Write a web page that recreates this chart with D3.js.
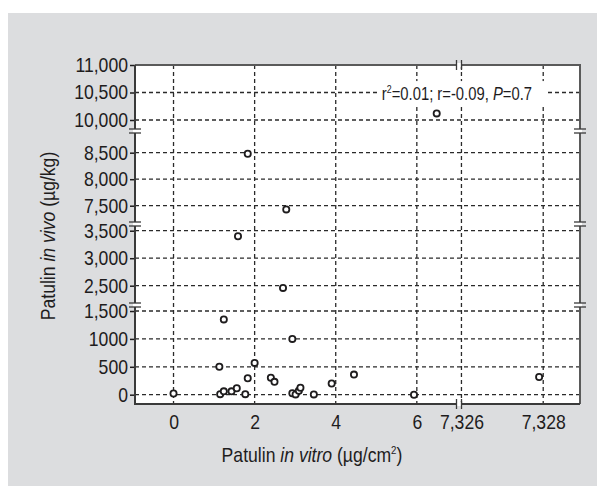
<!DOCTYPE html>
<html>
<head>
<meta charset="utf-8">
<script src="https://cdn.jsdelivr.net/npm/d3@7"></script>
<style>
  body { margin: 0; background: #ffffff; }
</style>
</head>
<body>
<script>
//Values
var vitroValues = [0, 1.13, 1.15, 1.24, 1.24, 1.43, 1.56, 1.59, 1.77, 1.83, 1.83, 2.0, 2.40, 2.49,
                   2.70, 2.78, 2.93, 2.93, 3.01, 3.09, 3.13, 3.46, 3.90, 4.45, 5.93, 6.49, 7.3279];
var vivoValues = [20, 500, 10, 1350, 60, 60, 115, 3400, 10, 295, 8480, 570, 305, 230,
                  2460, 7430, 1000, 25, 5, 70, 125, 5, 200, 360, 0, 10120, 317];

var xTickValues = [0, 2, 4, 6, 7.326, 7.328];
var xTickLabels = ["0", "2", "4", "6", "7,326", "7,328"];
var yTickValues = [0, 500, 1000, 1500, 2500, 3000, 3500, 7500, 8000, 8500, 10000, 10500, 11000];
var yTickLabels = ["0", "500", "1000", "1,500", "2,500", "3,000", "3,500",
                   "7,500", "8,000", "8,500", "10,000", "10,500", "11,000"];

//Layout
var W = 597;
var H = 486;
var Left = 135;
var Right = 580;
var Top = 65;
var Bottom = 404;
var Font = "'Liberation Sans', Arial, sans-serif";
var Ink = "#1e1c1d";
var Squeeze = "scale(0.88,1)";

//Where the axes are cut
var xBreakAt = [7.04];
var yBreakAt = [1608, 3622, 8909];

function main() {
  var svg = d3.select("body")
    .append("svg")
    .attr("width", W)
    .attr("height", H);

  //Grey panel and white plot area
  svg.append("rect")
    .attr("x", 8).attr("y", 13)
    .attr("width", W - 8).attr("height", H - 13)
    .attr("fill", "#dcdddf");
  svg.append("rect")
    .attr("x", Left).attr("y", Top)
    .attr("width", Right - Left).attr("height", Bottom - Top)
    .attr("fill", "#ffffff");

  //Broken scales: each gap collapses onto one pixel
  var xScale = d3.scaleLinear()
    .domain([-0.95, 7.04, 7.32594, 7.3289])
    .range([Left, 459, 459, Right]);
  var yScale = d3.scaleLinear()
    .domain([-167, 1608, 2149, 3622, 7155, 8909, 9800, 11000])
    .range([Bottom, 305, 305, 224, 224, 131, 131, Top]);

  grid(svg, xScale, yScale);
  note(svg);
  axes(svg, xScale, yScale);
  frame(svg, xScale, yScale);
  points(svg, xScale, yScale);
  titles(svg);
}

function grid(svg, xScale, yScale) {
  //Dashed grid lines at every tick
  var g = svg.append("g")
    .attr("stroke", "#2a2a2a")
    .attr("stroke-width", 1.3)
    .attr("stroke-dasharray", "4,3");
  g.selectAll(".vgrid")
    .data(xTickValues)
    .enter()
    .append("line")
    .attr("x1", function(d) { return xScale(d); })
    .attr("x2", function(d) { return xScale(d); })
    .attr("y1", Top)
    .attr("y2", Bottom);
  g.selectAll(".hgrid")
    .data(yTickValues.filter(function(d) { return d < 11000; }))
    .enter()
    .append("line")
    .attr("x1", Left)
    .attr("x2", Right)
    .attr("y1", function(d) { return yScale(d); })
    .attr("y2", function(d) { return yScale(d); });
}

function note(svg) {
  //Statistics text with a white box that hides the grid
  var g = svg.append("g");
  var t = g.append("text")
    .attr("transform", "translate(532,100) scale(0.8,1)")
    .attr("text-anchor", "end")
    .attr("font-family", Font)
    .attr("font-size", "18.5px")
    .attr("fill", Ink);
  t.append("tspan").text("r");
  t.append("tspan").attr("font-size", "11px").attr("dy", "-7").text("2");
  t.append("tspan").attr("dy", "7").text("=0.01; r=-0.09, ");
  t.append("tspan").attr("font-style", "italic").text("P");
  t.append("tspan").text("=0.7");
  var bb = g.node().getBBox();
  g.insert("rect", "text")
    .attr("x", bb.x - 3)
    .attr("y", bb.y - 2)
    .attr("width", bb.width + 16)
    .attr("height", bb.height + 2)
    .attr("fill", "#ffffff");
}

function axes(svg, xScale, yScale) {
  var yAxis = d3.axisLeft(yScale)
    .tickValues(yTickValues)
    .tickFormat(function(d, i) { return yTickLabels[i]; })
    .tickSize(5)
    .tickPadding(3);
  var gy = svg.append("g")
    .attr("transform", "translate(" + Left + ",0)")
    .attr("color", Ink)
    .call(yAxis);
  gy.select(".domain").remove();
  gy.selectAll("line").attr("stroke-width", 1.5);

  var xAxis = d3.axisBottom(xScale)
    .tickValues(xTickValues)
    .tickFormat(function(d, i) { return xTickLabels[i]; })
    .tickSize(0)
    .tickPadding(11);
  var gx = svg.append("g")
    .attr("transform", "translate(0," + Bottom + ")")
    .attr("color", Ink)
    .call(xAxis);
  gx.select(".domain").remove();

  svg.selectAll(".tick text")
    .attr("font-family", Font)
    .attr("font-size", "20px")
    .attr("transform", Squeeze);
}

function frame(svg, xScale, yScale) {
  //Outline of the plot: dark axes, grey top and right
  svg.append("path")
    .attr("d", "M" + Left + "," + Top + "H" + Right + "V" + Bottom)
    .attr("fill", "none")
    .attr("stroke", "#5a5a5a")
    .attr("stroke-width", 2);
  svg.append("path")
    .attr("d", "M" + Left + "," + Top + "V" + Bottom + "H" + Right)
    .attr("fill", "none")
    .attr("stroke", "#3a3a3a")
    .attr("stroke-width", 2);

  //Break marks, two short bars across each cut
  xBreakAt.forEach(function(v) {
    var x = xScale(v);
    [Top, Bottom].forEach(function(y) {
      svg.append("rect")
        .attr("x", x - 2).attr("y", y - 2)
        .attr("width", 4).attr("height", 4)
        .attr("fill", "#ffffff");
      [-2.5, 2.5].forEach(function(o) {
        svg.append("line")
          .attr("x1", x + o).attr("x2", x + o)
          .attr("y1", y - 5).attr("y2", y + 5)
          .attr("stroke", "#3a3a3a")
          .attr("stroke-width", 1.3);
      });
    });
  });
  yBreakAt.forEach(function(v) {
    var y = yScale(v);
    [Left, Right].forEach(function(x) {
      svg.append("rect")
        .attr("x", x - 2).attr("y", y - 2)
        .attr("width", 4).attr("height", 4)
        .attr("fill", "#ffffff");
      [-2, 2].forEach(function(o) {
        svg.append("line")
          .attr("x1", x - 6).attr("x2", x + 6)
          .attr("y1", y + o).attr("y2", y + o)
          .attr("stroke", "#3a3a3a")
          .attr("stroke-width", 1.3);
      });
    });
  });
}

function points(svg, xScale, yScale) {
  svg.selectAll(".pt")
    .data(vitroValues)
    .enter()
    .append("circle")
    .attr("class", "pt")
    .attr("cx", function(d) { return xScale(d); })
    .attr("cy", function(d, i) { return yScale(vivoValues[i]); })
    .attr("r", 3.1)
    .attr("fill", "#ffffff")
    .attr("stroke", "#1e1c1d")
    .attr("stroke-width", 1.8);
}

function titles(svg) {
  //x title, with italic part and superscript
  var tx = svg.append("text")
    .attr("transform", "translate(312,462) " + Squeeze)
    .attr("text-anchor", "middle")
    .attr("font-family", Font)
    .attr("font-size", "20px")
    .attr("fill", Ink);
  tx.append("tspan").text("Patulin ");
  tx.append("tspan").attr("font-style", "italic").text("in vitro");
  tx.append("tspan").text(" (µg/cm");
  tx.append("tspan").attr("font-size", "11px").attr("dy", "-8").text("2");
  tx.append("tspan").attr("dy", "8").text(")");

  var ty = svg.append("text")
    .attr("transform", "translate(55,236) rotate(-90) " + Squeeze)
    .attr("text-anchor", "middle")
    .attr("font-family", Font)
    .attr("font-size", "20px")
    .attr("fill", Ink);
  ty.append("tspan").text("Patulin ");
  ty.append("tspan").attr("font-style", "italic").text("in vivo");
  ty.append("tspan").text(" (µg/kg)");
}

main();
</script>
</body>
</html>
